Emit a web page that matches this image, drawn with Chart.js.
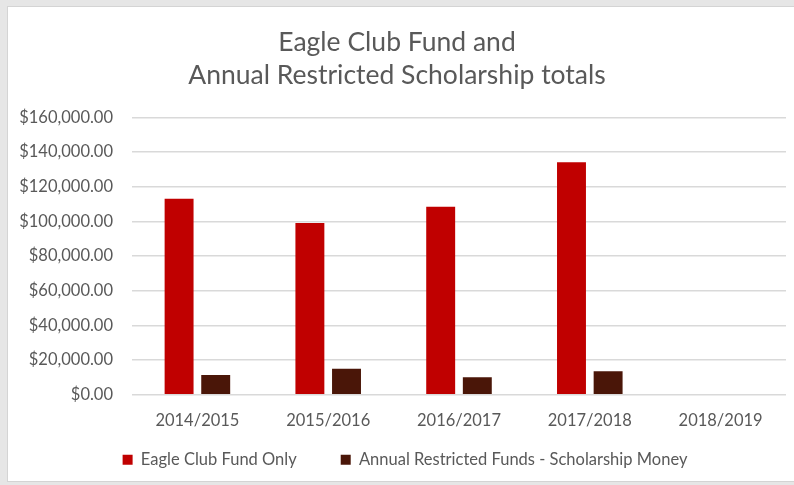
<!DOCTYPE html>
<html>
<head>
<meta charset="utf-8">
<script src="https://cdn.jsdelivr.net/npm/chart.js@4"></script>
<style>
  html, body { margin: 0; padding: 0; background: #e6e6e6; }
  body { width: 794px; height: 485px; position: relative; overflow: hidden; }
  #frame {
    position: absolute; left: 7px; top: 6px; width: 787px; height: 476px;
    background: #ffffff; border-left: 1px solid #d4d4d4; border-top: 1px solid #d4d4d4;
    border-bottom: 1px solid #d4d4d4; box-sizing: border-box;
  }
  #wrap { position: absolute; left: 0; top: 0; width: 786px; height: 474px; }
</style>
</head>
<body>
<div id="frame"><div id="wrap"><canvas id="chart"></canvas></div></div>
<script>
// Fiscal years and fund totals (USD)
const years = ['2014/2015', '2015/2016', '2016/2017', '2017/2018', '2018/2019'];
const eagleClubFund = [113000, 99000, 108400, 134100, null];
const scholarshipMoney = [11400, 14900, 10100, 13500, null];
const yTicks = [0, 20000, 40000, 60000, 80000, 100000, 120000, 140000, 160000];

const textGray = '#595959';
const fontFamily = 'Lato, "Liberation Sans", sans-serif';

const money = v => '$' + Number(v).toLocaleString('en-US', { minimumFractionDigits: 2, maximumFractionDigits: 2 });

// Legend label padding sets both the gap between items and the space above them;
// this trims the space above so a wide horizontal gap doesn't push the plot up.
const LEGEND_TRIM = 31;
const legendTrim = {
  id: 'legendTrim',
  afterInit(chart) {
    const lg = chart.legend;
    if (!lg) return;
    const fit = lg.fit;
    const draw = lg.draw;
    lg.fit = function () { fit.call(this); this.height -= LEGEND_TRIM; };
    lg.draw = function (area) {
      const top = this.top;
      const left = this.left;
      this.top = top - LEGEND_TRIM;
      this.left = left + 16;
      draw.call(this, area);
      this.top = top;
      this.left = left;
    };
  }
};

new Chart(document.getElementById('chart'), {
  type: 'bar',
  data: {
    labels: years,
    datasets: [
      { label: 'Eagle Club Fund Only', data: eagleClubFund, backgroundColor: '#c00000',
        categoryPercentage: 0.56, barPercentage: 0.79 },
      { label: 'Annual Restricted Funds - Scholarship Money', data: scholarshipMoney, backgroundColor: '#4a1608',
        categoryPercentage: 0.56, barPercentage: 0.79 }
    ]
  },
  plugins: [legendTrim],
  options: {
    responsive: true,
    maintainAspectRatio: false,
    animation: false,
    layout: { padding: { left: 0, right: 8, top: 19, bottom: 3 } },
    plugins: {
      title: {
        display: true,
        text: ['Eagle Club Fund and', 'Annual Restricted Scholarship totals'],
        color: textGray,
        font: { family: fontFamily, size: 26.5, weight: 'normal', lineHeight: 1.25 },
        padding: { top: 0, bottom: 25 }
      },
      legend: {
        position: 'bottom',
        labels: {
          color: textGray,
          font: { family: fontFamily, size: 16.5 },
          boxWidth: 10, boxHeight: 10, padding: 44
        }
      },
      tooltip: { enabled: false }
    },
    scales: {
      x: {
        grid: { display: false },
        border: { display: false },
        ticks: { color: textGray, font: { family: fontFamily, size: 16.5 }, padding: 8 }
      },
      y: {
        min: 0, max: 160000,
        afterBuildTicks: axis => { axis.ticks = yTicks.map(v => ({ value: v })); },
        afterFit: axis => { axis.width = 124; },
        grid: { color: '#d9d9d9', lineWidth: 1.5, drawTicks: false },
        border: { display: false },
        ticks: { color: textGray, font: { family: fontFamily, size: 16.5 }, padding: 19, callback: v => money(v) }
      }
    }
  }
});
</script>
</body>
</html>
